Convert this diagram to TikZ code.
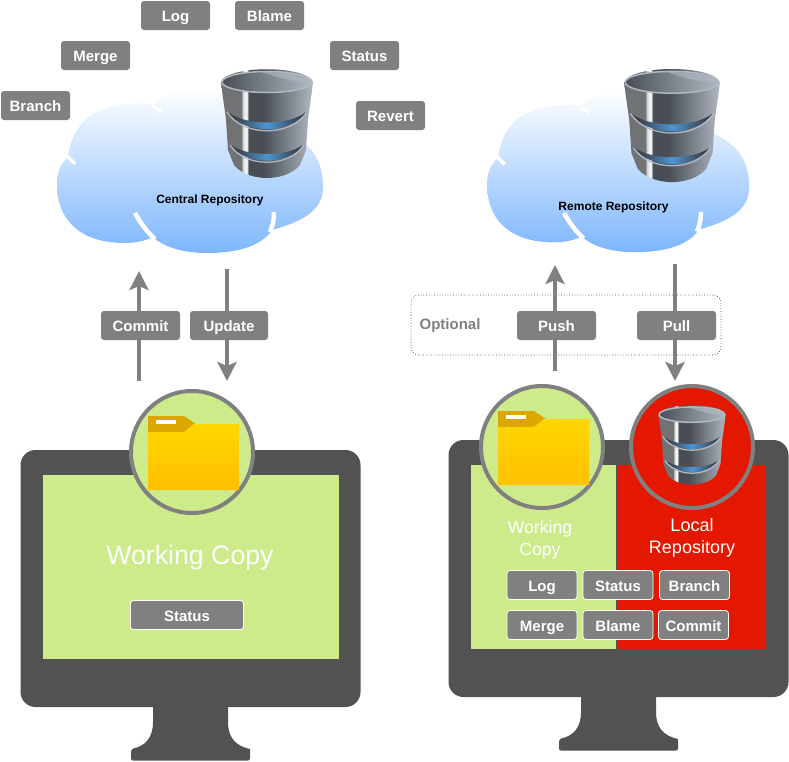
\documentclass[tikz,border=0pt]{standalone}
\usepackage{fontspec}
\setmainfont{Liberation Sans}
\usetikzlibrary{arrows.meta}
\definecolor{cmdgray}{RGB}{128,128,128}
\definecolor{framegray}{RGB}{82,82,82}
\definecolor{screengreen}{RGB}{205,235,139}
\definecolor{screenred}{RGB}{228,23,0}
\definecolor{tabgold}{RGB}{222,166,0}
\definecolor{foldertop}{RGB}{255,214,0}
\definecolor{folderbot}{RGB}{255,192,0}
\definecolor{cloudbot}{RGB}{125,182,253}
\definecolor{dbA}{RGB}{112,114,116}
\definecolor{dbB}{RGB}{215,218,220}
\definecolor{dbC}{RGB}{72,78,84}
\definecolor{dbD}{RGB}{178,184,194}
\definecolor{bandA}{RGB}{58,64,72}
\definecolor{bandB}{RGB}{76,150,210}
\pgfdeclarehorizontalshading{dbmetal}{100bp}{color(0bp)=(dbA); color(25bp)=(dbA); color(36bp)=(dbA);
 color(37bp)=(dbB); color(39bp)=(white); color(40bp)=(dbC); color(48bp)=(dbC); color(75bp)=(dbD); color(100bp)=(dbD)}
\pgfdeclarehorizontalshading{dbband}{100bp}{color(0bp)=(bandA); color(29bp)=(bandA); color(50bp)=(bandB); color(71bp)=(bandA); color(100bp)=(bandA)}
\tikzset{
  cmdbox/.style={rounded corners=3pt,fill=cmdgray,text=white,font=\fontsize{15}{18}\selectfont\bfseries,
    minimum width=69pt,minimum height=29pt,inner sep=0pt,text height=12.5pt,text depth=0pt},
  cmdline/.style={cmdbox,draw=white,line width=0.8pt},
  flowline/.style={draw=cmdgray,line width=3.5pt},
  flowtip/.style={flowline,-{Stealth[length=19pt,width=19pt,inset=4pt]}},
  badge/.style={circle,draw=cmdgray,line width=4pt,minimum size=122pt,inner sep=0pt},
  bigtext/.style={text=white,align=center,inner sep=0pt},
  cloudtext/.style={font=\fontsize{12}{14}\selectfont\bfseries,text=black,inner sep=0pt},
  cloud/.pic={
    \shade[top color=white,bottom color=cloudbot] (68,157) .. controls (60,165) and (57,172) .. (57,185)
      .. controls (57,215) and (75,243) .. (125,243) .. controls (135,243) and (145,241) .. (153,237)
      .. controls (165,248) and (185,253) .. (207,253) .. controls (240,253) and (262,245) .. (272,230)
      .. controls (300,222) and (323,212) .. (323,187) .. controls (323,165) and (315,150) .. (300,140)
      -- (220,93) .. controls (205,88) and (170,88) .. (153,104) .. controls (135,102) and (113,104) .. (95,113)
      .. controls (78,122) and (70,140) .. (68,157) -- cycle;
    \draw[white,line width=3.5pt] (67,156) -- (75,164);
    \draw[white,line width=3.5pt] (152,106) -- (161,111);
    \draw[white,line width=4.5pt] (135,213) .. controls (140,222) and (146,231) .. (155,239);
    \draw[white,line width=4.5pt] (274,212) .. controls (274,219) and (273,225) .. (270,232);
  },
  dbicon/.pic={
    \shade[shading=dbmetal] (-46,-43) .. controls (-44,-25) and (-42,-15) .. (-41,-5) -- (-39,25) -- (-33,40)
      .. controls (-25,50) and (-10,53) .. (0,53) .. controls (10,53) and (25,50) .. (33,40) -- (39,25) -- (41,-5)
      .. controls (42,-15) and (44,-25) .. (46,-43) .. controls (40,-60) and (-40,-60) .. (-46,-43) -- cycle;
    \shade[shading=dbband] (-39,-13) .. controls (-22,1) and (22,1) .. (39,-13) .. controls (24,10) and (-24,10) .. (-39,-13) -- cycle;
    \shade[shading=dbband] (-36,20) .. controls (-20,32) and (20,32) .. (36,20) .. controls (22,41) and (-22,41) .. (-36,20) -- cycle;
    \draw[dbD,line width=1.3pt] (-40,-13) .. controls (-24,12) and (24,12) .. (40,-13);
    \draw[dbD,line width=1.3pt] (-37,20) .. controls (-22,43) and (22,43) .. (37,20);
    \shade[left color=dbC,right color=dbD,draw=dbD,line width=1.5pt] (0,-43) ellipse (45 and 10.5);
    \fill[dbD,opacity=.6] (-5,-53) .. controls (15,-53) and (35,-50) .. (44,-44) .. controls (30,-42) and (15,-46) .. (-5,-53) -- cycle;
  },
  folder/.pic={
    \fill[tabgold] (148,416) -- (184,416) -- (196,424) -- (184,432) -- (148,432) -- cycle;
    \shade[top color=foldertop,bottom color=folderbot] (148,432) -- (184,432) -- (194,424) -- (239,424) -- (239,490) -- (148,490) -- cycle;
    \fill[white] (156,420) rectangle (176,424);
  },
  monitor/.pic={
    \fill[framegray] (153,700) -- (228,700) -- (228,722) .. controls (228,738) and (236,746) .. (250,749)
      -- (250,758) [rounded corners=2pt] -- (250,760.5) -- (131,760.5) -- (131,749) [sharp corners]
      .. controls (145,746) and (153,738) .. (153,722) -- cycle;
    \fill[framegray,rounded corners=15pt] (20.5,450) rectangle (360.5,707);
  }
}
\begin{document}
\begin{tikzpicture}[x=1pt,y=-1pt]
\useasboundingbox (0,0) rectangle (789,761);
\fill[white] (0,0) rectangle (789,761);

%clouds
\pic at (0,0) {cloud};
\pic[scale=0.985] at (431,3) {cloud};
\pic[scale=1] at (267,125) {dbicon};
\pic[scale=1.04] at (672,127) {dbicon};
\node[cloudtext] (central) at (210,200) {Central Repository};
\node[cloudtext] (remote) at (613.5,207) {Remote Repository};

\foreach \nm/\txt/\px/\py in {log/Log/175.5/15.5,blame/Blame/269.5/15.5,merge/Merge/95.5/55.5,status/Status/364.5/55.5,
  branch/Branch/35.5/105.5,revert/Revert/390.5/115.5}
  \node[cmdbox] (\nm) at (\px,\py) {\txt};

%monitors
\pic at (0,0) {monitor};
\pic at (428,-10) {monitor};
\fill[screengreen] (42.5,474.5) rectangle (338.5,658.5);
\fill[screengreen] (470.5,465) rectangle (616,648.5);
\fill[screenred] (616,465) rectangle (766,648.5);
\draw[framegray,line width=0.6pt] (616,465) -- (616,648.5);

\node[badge,fill=screengreen] (wcleft) at (192,452) {};
\node[badge,fill=screengreen] (wcright) at (542,447) {};
\node[badge,fill=screenred] (localrepo) at (692,447) {};
\pic at (0,0) {folder};
\pic at (350,-5) {folder};
\pic[scale=0.73] at (692,446) {dbicon};

\node[bigtext,font=\fontsize{26.7}{30}\selectfont] (wctext) at (190,557.5) {Working Copy};
\node[bigtext,font=\fontsize{17.6}{22}\selectfont] (wctextb) at (540,540) {Working\\Copy};
\node[bigtext,font=\fontsize{18}{22}\selectfont] (lrtext) at (692,538) {Local\\Repository};

\node[cmdline,minimum width=113pt] (statusa) at (187,615) {Status};
\foreach \nm/\txt/\px/\py in {logb/Log/542/585,statusb/Status/618/585,branchb/Branch/694.5/585,
  mergeb/Merge/542/625,blameb/Blame/618/625,commitb/Commit/693.5/625}
  \node[cmdline,minimum width=70pt] (\nm) at (\px,\py) {\txt};

%arrows
\node[draw=black!75,line width=0.7pt,dotted,rounded corners=8pt,minimum width=310pt,minimum height=60pt,inner sep=0pt] (optbox) at (566,325) {};
\node[font=\fontsize{15}{18}\selectfont\bfseries,text=cmdgray,inner sep=0pt] (optional) at (450,326) {Optional};

\node[cmdbox,minimum width=79pt] (commit) at (140.5,325.5) {Commit};
\node[cmdbox,minimum width=78pt] (update) at (229,325.5) {Update};
\node[cmdbox,minimum width=79pt] (push) at (556.5,325.5) {Push};
\node[cmdbox,minimum width=79pt] (pull) at (676.5,325.5) {Pull};

\coordinate (commitlow) at (139,381);
\coordinate (committop) at (139,271);
\coordinate (updatetop) at (227,269);
\coordinate (updatelow) at (227,381);
\coordinate (pushlow) at (555,371);
\coordinate (pushtop) at (555,265);
\coordinate (pulltop) at (675,264);
\coordinate (pulllow) at (675,381);

\draw[flowline] (commitlow) -- (commitlow |- commit.south);
\draw[flowtip] (committop |- commit.north) -- (committop);
\draw[flowline] (updatetop) -- (updatetop |- update.north);
\draw[flowtip] (updatelow |- update.south) -- (updatelow);
\draw[flowline] (pushlow) -- (pushlow |- push.south);
\draw[flowtip] (pushtop |- push.north) -- (pushtop);
\draw[flowline] (pulltop) -- (pulltop |- pull.north);
\draw[flowtip] (pulllow |- pull.south) -- (pulllow);
\end{tikzpicture}
\end{document}
